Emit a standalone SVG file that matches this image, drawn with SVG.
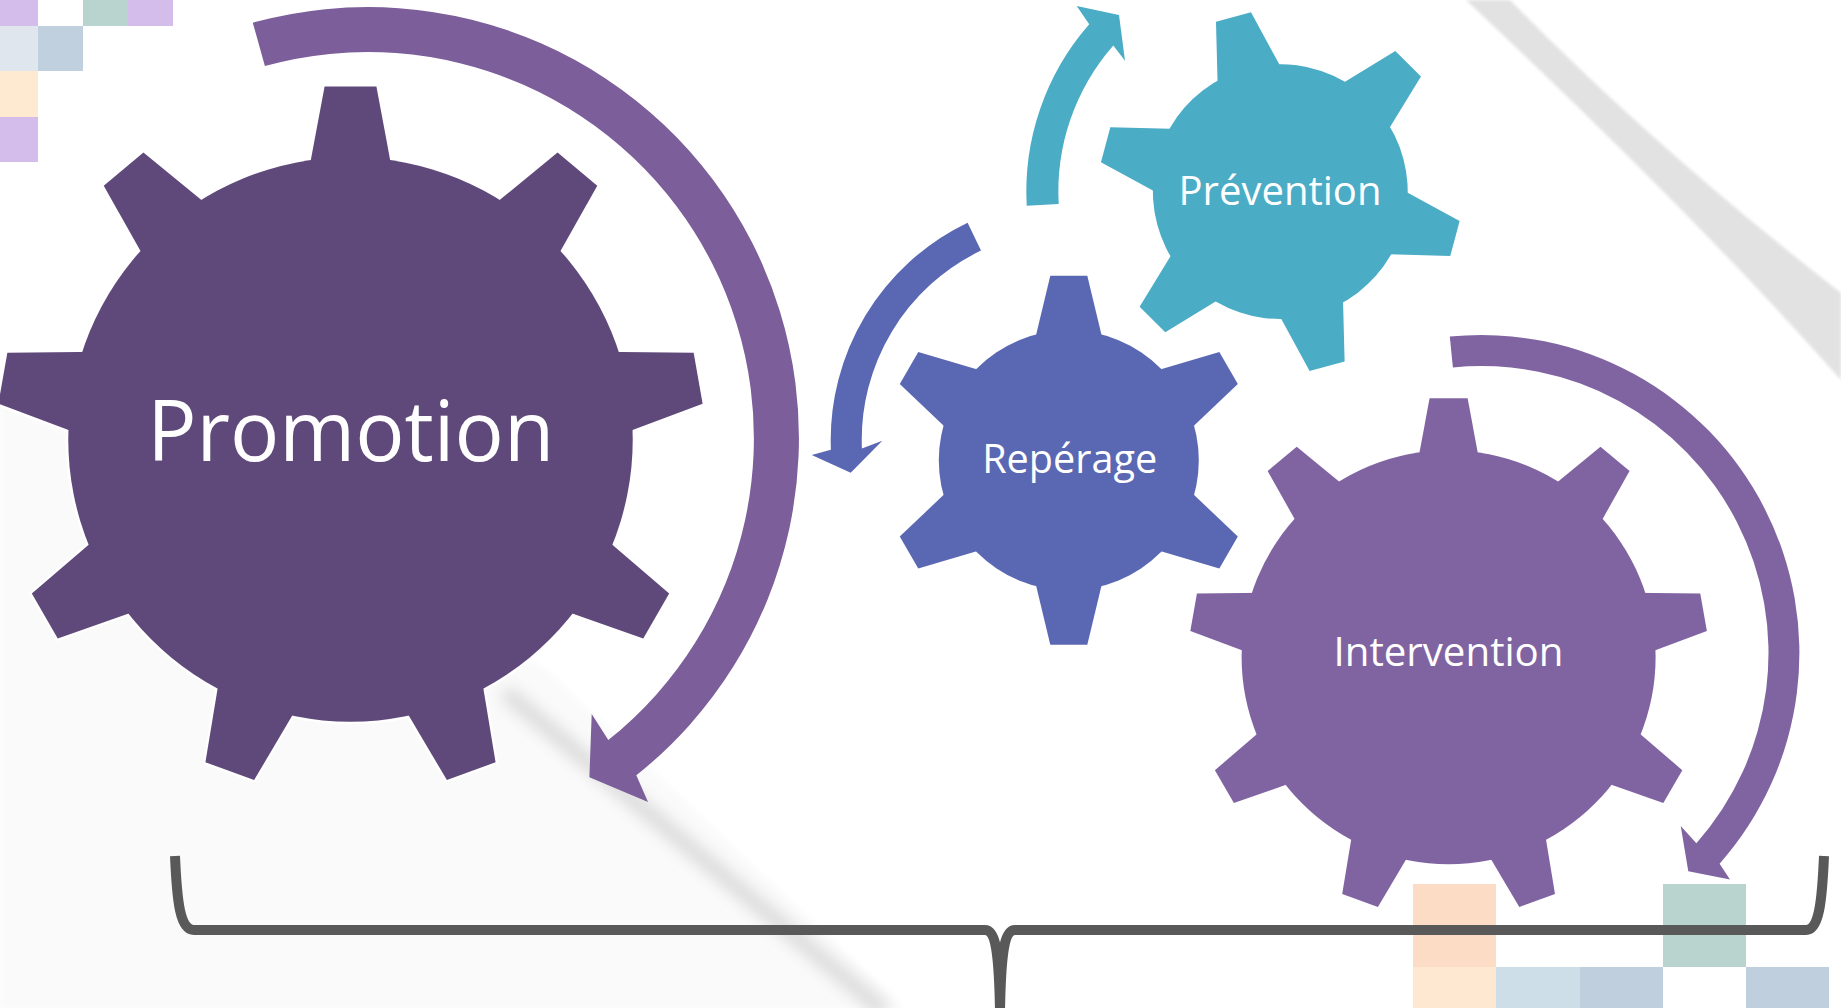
<svg xmlns="http://www.w3.org/2000/svg" xmlns:xlink="http://www.w3.org/1999/xlink" width="1841" height="1008" viewBox="0 0 1841 1008">
<style>
  .lbl{font-family:"Open Sans","Noto Sans","DejaVu Sans",sans-serif;fill:#ffffff;text-anchor:middle}
  .ol{fill:#ffffff;stroke:#ffffff;stroke-linejoin:round}
  .brace{fill:none;stroke:#595959;stroke-width:10;stroke-linecap:butt;stroke-linejoin:round}
</style>
<defs>
  <filter id="sh" filterUnits="userSpaceOnUse" x="0" y="0" width="1841" height="1008"><feGaussianBlur stdDeviation="8"/></filter>
  <filter id="soft" filterUnits="userSpaceOnUse" x="0" y="0" width="1841" height="1008"><feGaussianBlur stdDeviation="1.5"/></filter>
  <filter id="pg" filterUnits="userSpaceOnUse" x="0" y="0" width="1841" height="1008"><feGaussianBlur stdDeviation="3"/></filter>
  <polygon id="t9" points="-19,-258.9 19,-258.9 31.9,-190 -31.9,-190"/>
  <polygon id="t6" points="-18.5,-184.5 18.5,-184.5 35.2,-115 -35.2,-115"/>
  <g id="gear9">
    <circle r="207"/>
    <use xlink:href="#t9"/>
    <use xlink:href="#t9" transform="rotate(40)"/>
    <use xlink:href="#t9" transform="rotate(80)"/>
    <use xlink:href="#t9" transform="rotate(120)"/>
    <use xlink:href="#t9" transform="rotate(160)"/>
    <use xlink:href="#t9" transform="rotate(200)"/>
    <use xlink:href="#t9" transform="rotate(240)"/>
    <use xlink:href="#t9" transform="rotate(280)"/>
    <use xlink:href="#t9" transform="rotate(320)"/>
  </g>
  <g id="gear6">
    <circle r="130"/>
    <use xlink:href="#t6"/>
    <use xlink:href="#t6" transform="rotate(60)"/>
    <use xlink:href="#t6" transform="rotate(120)"/>
    <use xlink:href="#t6" transform="rotate(180)"/>
    <use xlink:href="#t6" transform="rotate(240)"/>
    <use xlink:href="#t6" transform="rotate(300)"/>
  </g>
</defs>

<g id="background">
  <rect width="1841" height="1008" fill="#ffffff"/>
  <path d="M0,400 L545,668 L905,1010 L0,1010 Z" fill="#FAFAFA" filter="url(#pg)"/>
  <path d="M505,692 L885,1012" stroke="#D6D6D6" stroke-width="14" fill="none" filter="url(#sh)"/>
  <path d="M1510,0 Q1655,148 1841,293 L1841,380 Q1700,220 1466,0 Z" fill="#E2E2E2" filter="url(#soft)"/>
  <g id="squares-tl">
    <rect x="0" y="0" width="38" height="26" fill="#D4BDEA"/>
    <rect x="83" y="0" width="45" height="26" fill="#B9D4CF"/>
    <rect x="128" y="0" width="45" height="26" fill="#D4BDEA"/>
    <rect x="0" y="26" width="38" height="45" fill="#DFE6EE"/>
    <rect x="38" y="26" width="45" height="45" fill="#C0D0DE"/>
    <rect x="0" y="71" width="38" height="46" fill="#FEE9D1"/>
    <rect x="0" y="117" width="38" height="45" fill="#D4BDEA"/>
  </g>
  <g id="squares-br">
    <rect x="1413" y="884" width="83" height="83" fill="#FCDCC5"/>
    <rect x="1663" y="884" width="83" height="83" fill="#B9D3CF"/>
    <rect x="1413" y="967" width="83" height="41" fill="#FEE8D1"/>
    <rect x="1496" y="967" width="84" height="41" fill="#CDDEE8"/>
    <rect x="1580" y="967" width="83" height="41" fill="#C0CFDD"/>
    <rect x="1746" y="967" width="83" height="41" fill="#C0CFDD"/>
  </g>
</g>

<g id="brace">
  <path class="brace" d="M175,856 C177,902 180,930 194,930 L985,930 C995,930 999,948 1000,1012 M1000,1012 C1001,948 1005,930 1015,930 L1806,930 C1819,930 1822,902 1824,856"/>
</g>

<g id="connectors">
  <path id="arrow-promotion" fill="#7B5E9A" d="M252.8,22.7 A431,431 0 0 1 636.3,775.3 L648,802 L589.4,777.3 L591.7,714 L608.3,740.1 A386,386 0 0 0 264.9,66.1 Z"/>
  <path id="arrow-reperage" fill="#5A68B3" d="M967.6,222.7 A241,241 0 0 0 830.9,449.7 L811.7,455 L850.7,472.7 L882.3,440.7 L861.9,448.4 A210,210 0 0 1 981,250.6 Z"/>
  <path id="arrow-prevention" fill="#4BACC6" d="M1026.7,205.8 A254,254 0 0 1 1089.2,24.3 L1076.7,6 L1119,15 L1125,60.7 L1113.3,45.4 A222,222 0 0 0 1058.7,204 Z"/>
  <path id="arrow-intervention" fill="#8064A2" d="M1449.8,336.6 A318,318 0 0 1 1719.6,863.7 L1730,879.4 L1688.3,871.2 L1680.7,826.1 L1696.4,843.2 A287,287 0 0 0 1452.9,367.4 Z"/>
</g>

<g id="node-promotion">
  <use xlink:href="#gear9" class="ol" stroke-width="3.5" transform="translate(350.5,439.5) scale(1.3635)"/>
  <use xlink:href="#gear9" fill="#5F497A" transform="translate(350.5,439.5) scale(1.3635)"/>
  <text class="lbl" x="350.7" y="461" font-size="84" textLength="407" lengthAdjust="spacingAndGlyphs">Promotion</text>
</g>

<g id="node-prevention">
  <use xlink:href="#gear6" class="ol" stroke-width="4" transform="translate(1280.3,191.6) rotate(-15) scale(0.98)"/>
  <use xlink:href="#gear6" fill="#4BACC6" transform="translate(1280.3,191.6) rotate(-15) scale(0.98)"/>
  <text class="lbl" x="1280" y="205" font-size="39.5" textLength="203" lengthAdjust="spacingAndGlyphs">Prévention</text>
</g>

<g id="node-reperage">
  <use xlink:href="#gear6" class="ol" stroke-width="4" transform="translate(1068.8,460.3)"/>
  <use xlink:href="#gear6" fill="#5A68B3" transform="translate(1068.8,460.3)"/>
  <text class="lbl" x="1069.7" y="473" font-size="39.5" textLength="175" lengthAdjust="spacingAndGlyphs">Repérage</text>
</g>

<g id="node-intervention">
  <use xlink:href="#gear9" class="ol" stroke-width="4" transform="translate(1448.6,657.2)"/>
  <use xlink:href="#gear9" fill="#8064A2" transform="translate(1448.6,657.2)"/>
  <text class="lbl" x="1448.5" y="666" font-size="39.5" textLength="230" lengthAdjust="spacingAndGlyphs">Intervention</text>
</g>
</svg>
